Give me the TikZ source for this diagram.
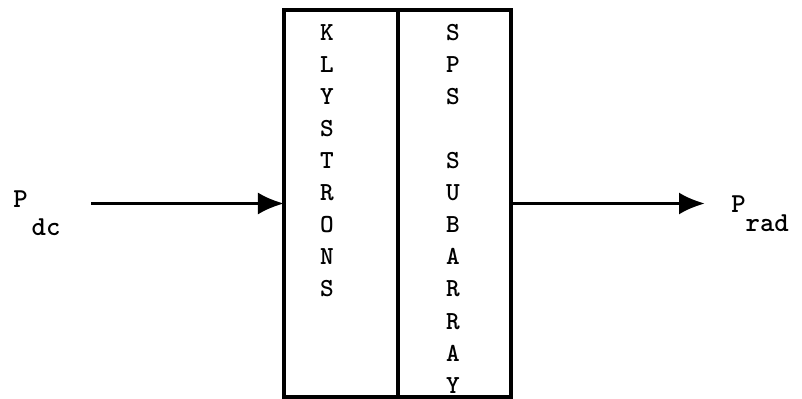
\documentclass[tikz,border=0pt]{standalone}
\usepackage{fontspec}
\usetikzlibrary{arrows.meta}
\tikzset{
  letter/.style={font=\ttfamily\bfseries\fontsize{18.5}{20}\selectfont, anchor=base, inner sep=0pt},
  label/.style={font=\ttfamily\bfseries\fontsize{19.5}{21}\selectfont, anchor=base west, inner sep=0pt},
  block/.style={draw, line width=2.3pt, inner sep=0pt, outer sep=0pt, minimum height=9.675cm},
  flow/.style={line width=2.3pt, -{Latex[length=0.65cm,width=0.55cm]}}
}
\begin{document}
\begin{tikzpicture}[x=0.025cm, y=-0.025cm]
\useasboundingbox (0,0) rectangle (802,399);

\node[block, minimum width=2.85cm] (klys) at (341,203.5) {};
\node[block, minimum width=2.825cm] (sub) at (454.5,203.5) {};

\foreach \c [count=\i from 0] in {K,L,Y,S,T,R,O,N,S}
  \node[letter] (k\i) at (327,{41+32*\i}) {\c};
\foreach \c/\j in {S/0,P/1,S/2,S/4,U/5,B/6,A/7,R/8,R/9,A/10,Y/11}
  \node[letter] (s\j) at (453,{41+32*\j}) {\c};

\node[label] (pdc) at (13,208) {P\hspace{0.1cm}\raisebox{-0.675cm}{dc}};
\node[label] (prad) at (731,213) {P\raisebox{-0.45cm}{rad}};

\coordinate (dcin) at (91,203.5);
\coordinate (radout) at (705,203.5);

\draw[flow] (dcin) -- (klys.west);
\draw[flow] (sub.east) -- (radout);

\end{tikzpicture}
\end{document}
